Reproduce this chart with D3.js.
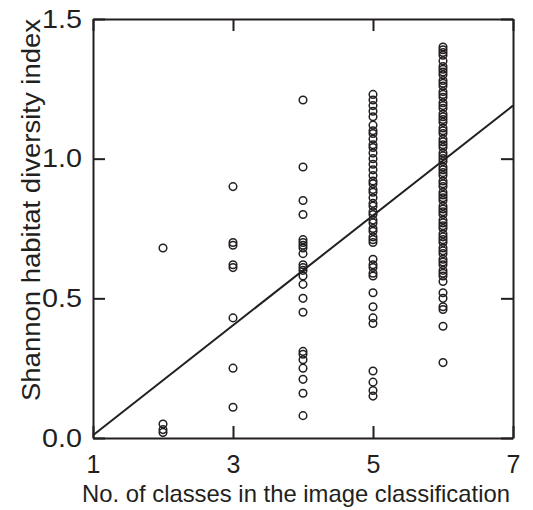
<!DOCTYPE html>
<html><head><meta charset="utf-8">
<script src="https://cdn.jsdelivr.net/npm/d3@7"></script>
<style>body{margin:0;background:#fff}text{font-family:"Liberation Sans",Arial,sans-serif;fill:#231f20}</style>
</head><body>
<svg id="c" width="533" height="510"></svg>
<script>
const xTicks = [1, 3, 5, 7];
const yTicks = [0.0, 0.5, 1.0, 1.5];
const yTickLabels = ["0.0", "0.5", "1.0", "1.5"];
const classes2 = [0.68, 0.05, 0.03, 0.02];
const classes3 = [0.90, 0.70, 0.69, 0.62, 0.61, 0.43, 0.25, 0.11];
const classes4 = [1.21, 0.97, 0.85, 0.80, 0.71, 0.70, 0.69, 0.68, 0.66, 0.62, 0.61, 0.60, 0.58, 0.55, 0.50, 0.45, 0.31, 0.30, 0.28, 0.25, 0.21, 0.16, 0.08];
const classes5 = [1.23, 1.21, 1.19, 1.17, 1.15, 1.12, 1.10, 1.09, 1.07, 1.05, 1.04, 1.02, 1.00, 0.98, 0.96, 0.94, 0.92, 0.91, 0.89, 0.88, 0.86, 0.84, 0.83, 0.81, 0.80, 0.78, 0.77, 0.75, 0.74, 0.72, 0.71, 0.70, 0.64, 0.62, 0.61, 0.59, 0.58, 0.52, 0.47, 0.43, 0.41, 0.24, 0.20, 0.17, 0.15];
const classes6 = [1.40, 1.39, 1.38, 1.37, 1.35, 1.33, 1.32, 1.31, 1.30, 1.28, 1.27, 1.26, 1.24, 1.23, 1.22, 1.20, 1.19, 1.18, 1.16, 1.15, 1.14, 1.13, 1.11, 1.10, 1.09, 1.07, 1.06, 1.05, 1.04, 1.02, 1.01, 1.00, 0.99, 0.97, 0.96, 0.95, 0.94, 0.92, 0.91, 0.90, 0.88, 0.87, 0.86, 0.85, 0.83, 0.82, 0.81, 0.80, 0.78, 0.77, 0.76, 0.75, 0.73, 0.72, 0.71, 0.70, 0.68, 0.67, 0.66, 0.64, 0.63, 0.62, 0.60, 0.59, 0.58, 0.56, 0.52, 0.50, 0.47, 0.46, 0.40, 0.27];
const fitLine = [[1, 0.01], [7, 1.19]];

const groups = [[2, classes2], [3, classes3], [4, classes4], [5, classes5], [6, classes6]];
const points = groups.flatMap(([k, vals]) => vals.map(v => ({x: k, y: v})));

const svg = d3.select("#c");
const L = 93, R = 513, T = 19, B = 438;
const x = d3.scaleLinear().domain([1, 7]).range([L, R]);
const y = d3.scaleLinear().domain([0, 1.5]).range([B, T]);
const tl = 12;

const axStyle = g => {
  g.select(".domain").attr("stroke", "#231f20").attr("stroke-width", 2);
  g.selectAll(".tick line").attr("stroke", "#231f20").attr("stroke-width", 2);
};
svg.append("g").attr("transform", `translate(0,${B})`)
  .call(d3.axisBottom(x).tickValues(xTicks).tickSizeInner(-tl).tickSizeOuter(0).tickPadding(17).tickFormat(d3.format("d")))
  .call(axStyle).call(g => g.selectAll("text").attr("font-size", 25).attr("dy", "0.71em"));
svg.append("g").attr("transform", `translate(0,${T})`)
  .call(d3.axisTop(x).tickValues(xTicks).tickSizeInner(-tl).tickSizeOuter(0).tickFormat(""))
  .call(axStyle);
svg.append("g").attr("transform", `translate(${L},0)`)
  .call(d3.axisLeft(y).tickValues(yTicks).tickSizeInner(-tl).tickSizeOuter(0).tickPadding(11).tickFormat((d, i) => yTickLabels[i]))
  .call(axStyle).call(g => g.selectAll("text").attr("font-size", 25).attr("textLength", 40).attr("lengthAdjust", "spacingAndGlyphs"));
svg.append("g").attr("transform", `translate(${R},0)`)
  .call(d3.axisRight(y).tickValues(yTicks).tickSizeInner(-tl).tickSizeOuter(0).tickFormat(""))
  .call(axStyle);

svg.append("path").datum(fitLine)
  .attr("d", d3.line().x(d => x(d[0])).y(d => y(d[1])))
  .attr("fill", "none").attr("stroke", "#231f20").attr("stroke-width", 2);

svg.append("g").selectAll("circle").data(points).join("circle")
  .attr("cx", d => x(d.x)).attr("cy", d => y(d.y)).attr("r", 3.8)
  .attr("fill", "none").attr("stroke", "#231f20").attr("stroke-width", 1.5);

svg.append("text").attr("x", 296).attr("y", 502).attr("text-anchor", "middle")
  .attr("font-size", 24).attr("textLength", 428).attr("lengthAdjust", "spacingAndGlyphs")
  .text("No. of classes in the image classification");
svg.append("text").attr("transform", "translate(40,210) rotate(-90)").attr("text-anchor", "middle")
  .attr("font-size", 25).attr("textLength", 382).attr("lengthAdjust", "spacingAndGlyphs")
  .text("Shannon habitat diversity index");
</script>
</body></html>
